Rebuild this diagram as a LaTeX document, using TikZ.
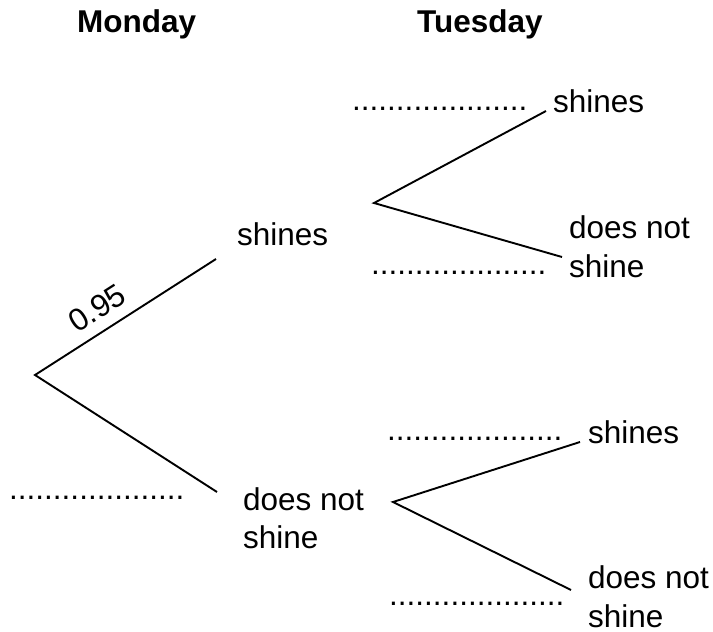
\documentclass[tikz,border=0pt]{standalone}
\usepackage{fontspec}
\setmainfont{Liberation Sans}
\begin{document}
\begin{tikzpicture}[x=1pt,y=-1pt,
  lbl/.style={anchor=base west,inner sep=0pt,font=\fontsize{31.5}{39}\selectfont},
  hdr/.style={lbl,font=\fontsize{31.5}{39}\selectfont\bfseries},
  dots/.style={lbl},
  two/.style={lbl,align=left},
  branch/.style={line width=1.9pt}]
\useasboundingbox (0,0) rectangle (713,632);
% headers
\node[hdr] (mon) at (77,32) {Monday};
\node[hdr] (tue) at (417,32) {Tuesday};
% branch points
\coordinate (r) at (35,375);
\coordinate (s1) at (216,259);
\coordinate (n1) at (217,492);
\coordinate (p) at (374,203);
\coordinate (ps) at (546,111);
\coordinate (pn) at (562,257);
\coordinate (q) at (393,502);
\coordinate (qs) at (580,442);
\coordinate (qn) at (571,590);
% labels
\node[lbl] (ms) at (237,245) {shines};
\node[lbl] (mn1) at (243,510) {does not};
\node[lbl] (mn2) at (243,548) {shine};
\node[lbl] (ts) at (553,112) {shines};
\node[lbl] (tn1) at (569,238) {does not};
\node[lbl] (tn2) at (569,277) {shine};
\node[lbl] (bs) at (588,443) {shines};
\node[lbl] (bn1) at (588,588) {does not};
\node[lbl] (bn2) at (588,627) {shine};
% dotted answer spaces
\node[dots] (d0) at (9,499) {....................};
\node[dots] (d1) at (352,110) {....................};
\node[dots] (d2) at (371,274) {....................};
\node[dots] (d3) at (387,440) {....................};
\node[dots] (d4) at (389,605) {....................};
% probability
\node[inner sep=0pt,rotate=32.7,font=\fontsize{31.5}{39}\selectfont] (prob) at (97,308) {0.95};
% branches
\draw[branch] (s1) -- (r) -- (n1);
\draw[branch] (ps) -- (p) -- (pn);
\draw[branch] (qs) -- (q) -- (qn);
\end{tikzpicture}
\end{document}
